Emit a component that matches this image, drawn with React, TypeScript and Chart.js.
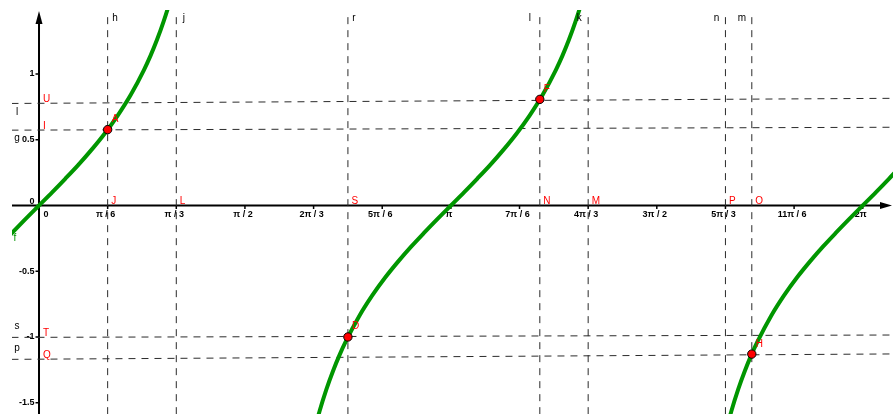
import React, { useEffect, useRef } from "react";
import { Chart, registerables } from "chart.js";

Chart.register(...registerables);

// f(x) = tan x, three visible branches (x, y)
const branch1X = [-0.25, -0.2, -0.1, 0, 0.1, 0.2, 0.3, 0.4, 0.5, 0.6, 0.7, 0.8, 0.85, 0.9, 0.95, 1.0, 1.05];
const branch1Y = [-0.255, -0.203, -0.1, 0, 0.1, 0.203, 0.309, 0.423, 0.546, 0.684, 0.842, 1.03, 1.138, 1.26, 1.398, 1.557, 1.743];
const branch2X = [2.092, 2.142, 2.192, 2.242, 2.292, 2.342, 2.442, 2.542, 2.642, 2.742, 2.842, 2.942, 3.042, 3.142, 3.242, 3.342, 3.442, 3.542, 3.642, 3.742, 3.842, 3.942, 3.992, 4.042, 4.092, 4.142, 4.192];
const branch2Y = [-1.743, -1.557, -1.398, -1.26, -1.138, -1.03, -0.842, -0.684, -0.546, -0.423, -0.309, -0.203, -0.1, 0, 0.1, 0.203, 0.309, 0.423, 0.546, 0.684, 0.842, 1.03, 1.138, 1.26, 1.398, 1.557, 1.743];
const branch3X = [5.233, 5.283, 5.333, 5.383, 5.433, 5.483, 5.583, 5.683, 5.783, 5.883, 5.983, 6.083, 6.183, 6.283, 6.383, 6.483, 6.583];
const branch3Y = [-1.743, -1.557, -1.398, -1.26, -1.138, -1.03, -0.842, -0.684, -0.546, -0.423, -0.309, -0.203, -0.1, 0, 0.1, 0.203, 0.309];

// Points on the graph
const pointNames = ["A", "D", "F", "H"];
const pointX = [0.5236, 2.3562, 3.82, 5.437];
const pointY = [0.577, -1.0, 0.807, -1.13];

// Vertical lines and their feet on the x-axis
const vLineNames = ["h", "j", "r", "l", "k", "n", "m"];
const vLineX = [0.5236, 1.0472, 2.3562, 3.82, 4.1888, 5.236, 5.437];
const vFootNames = ["J", "L", "S", "N", "M", "P", "O"];

// Horizontal lines (left end / right end heights) and their feet on the y-axis
const hLineNames = ["l", "g", "s", "p"];
const hLineLeftY = [0.776, 0.573, -1.003, -1.17];
const hLineRightY = [0.815, 0.595, -0.985, -1.129];
const hFootNames = ["U", "I", "T", "Q"];
const hLineFromX = -0.21;
const hLineToX = 6.49;

// Axis ticks
const xTickValues = [0, 0.5236, 1.0472, 1.5708, 2.0944, 2.618, 3.1416, 3.6652, 4.1888, 4.7124, 5.236, 5.7596, 6.2832];
const xTickLabels = ["0", "π / 6", "π / 3", "π / 2", "2π / 3", "5π / 6", "π", "7π / 6", "4π / 3", "3π / 2", "5π / 3", "11π / 6", "2π"];
const yTickValues = [1, 0.5, 0, -0.5, -1, -1.5];
const yTickLabels = ["1", "0.5", "0", "-0.5", "-1", "-1.5"];

// Visible window
const xMin = -0.206;
const xMax = 6.514;
const yMin = -1.5856;
const yMax = 1.4867;

const GREEN = "rgb(0,150,0)";
const RED = "#ff0000";
const DASH_COLOR = "#2a2a2a";
const FONT = '"Liberation Sans", Arial, sans-serif';

const zip = (xs: number[], ys: number[]) => xs.map((x, i) => ({ x, y: ys[i] }));

const vNameOffset = [7.5, 7.5, 6, -10, -9, -9, -10];
const hNameDy = [9, 8.5, -11, -11];

const geoPlugin = {
  id: "geoAxes",
  beforeDatasetsDraw(chart: any) {
    const { ctx } = chart;
    const xs = chart.scales.x;
    const ys = chart.scales.y;
    const ox = xs.getPixelForValue(0);
    const oy = ys.getPixelForValue(0);
    const W = chart.width;
    const H = chart.height;
    ctx.save();
    ctx.strokeStyle = "#000";
    ctx.fillStyle = "#000";
    ctx.lineWidth = 2;
    // x-axis
    ctx.beginPath();
    ctx.moveTo(chart.chartArea.left, oy);
    ctx.lineTo(W - 12, oy);
    ctx.stroke();
    ctx.beginPath();
    ctx.moveTo(W - 1, oy);
    ctx.lineTo(W - 13, oy - 3.5);
    ctx.lineTo(W - 13, oy + 3.5);
    ctx.closePath();
    ctx.fill();
    // y-axis
    ctx.beginPath();
    ctx.moveTo(ox, H);
    ctx.lineTo(ox, 22);
    ctx.stroke();
    ctx.beginPath();
    ctx.moveTo(ox, 11);
    ctx.lineTo(ox - 3.5, 24);
    ctx.lineTo(ox + 3.5, 24);
    ctx.closePath();
    ctx.fill();

    // ticks
    ctx.lineWidth = 1.5;
    xTickValues.forEach((v, i) => {
      if (i === 0) return;
      const px = xs.getPixelForValue(v);
      ctx.beginPath();
      ctx.moveTo(px, oy);
      ctx.lineTo(px, oy + 3.5);
      ctx.stroke();
    });
    yTickValues.forEach((v) => {
      if (v === 0) return;
      const py = ys.getPixelForValue(v);
      ctx.beginPath();
      ctx.moveTo(ox - 3.5, py);
      ctx.lineTo(ox, py);
      ctx.stroke();
    });

    // tick labels
    ctx.font = `bold 9px ${FONT}`;
    ctx.textBaseline = "middle";
    ctx.textAlign = "center";
    xTickValues.forEach((v, i) => {
      const px = i === 0 ? ox + 7 : xs.getPixelForValue(v) - 2;
      ctx.fillText(xTickLabels[i], px, oy + 9);
    });
    ctx.textAlign = "right";
    yTickValues.forEach((v, i) => {
      const py = v === 0 ? oy - 4 : ys.getPixelForValue(v);
      ctx.fillText(yTickLabels[i], ox - 4.5, py);
    });
    ctx.restore();
  },
  afterDatasetsDraw(chart: any) {
    const { ctx } = chart;
    const xs = chart.scales.x;
    const ys = chart.scales.y;
    const ox = xs.getPixelForValue(0);
    const oy = ys.getPixelForValue(0);
    const left = chart.chartArea.left;
    ctx.save();
    ctx.font = `10px ${FONT}`;

    // names of the vertical lines and their feet
    vLineX.forEach((v, i) => {
      const px = xs.getPixelForValue(v);
      ctx.fillStyle = "#000";
      ctx.textAlign = "center";
      ctx.textBaseline = "middle";
      ctx.fillText(vLineNames[i], px + vNameOffset[i], 18);
      ctx.fillStyle = RED;
      ctx.textAlign = "left";
      ctx.textBaseline = "alphabetic";
      ctx.fillText(vFootNames[i], px + 3.5, oy - 1);
    });

    // names of the horizontal lines and their feet
    hLineNames.forEach((name, i) => {
      const slope = (hLineRightY[i] - hLineLeftY[i]) / (hLineToX - hLineFromX);
      const yAt = (x: number) => hLineLeftY[i] + slope * (x - hLineFromX);
      const nameX = xs.getValueForPixel(left + 5);
      ctx.fillStyle = "#000";
      ctx.textAlign = "center";
      ctx.textBaseline = "middle";
      ctx.fillText(name, left + 5, ys.getPixelForValue(yAt(nameX)) + hNameDy[i]);
      ctx.fillStyle = RED;
      ctx.textAlign = "left";
      ctx.textBaseline = "alphabetic";
      ctx.fillText(hFootNames[i], ox + 4, ys.getPixelForValue(yAt(0)) - 1.5);
    });

    // names of the points
    ctx.fillStyle = RED;
    ctx.textAlign = "left";
    ctx.textBaseline = "alphabetic";
    pointNames.forEach((name, i) => {
      const px = xs.getPixelForValue(pointX[i]);
      const py = ys.getPixelForValue(pointY[i]);
      ctx.fillText(name, px + 4, py - 7.5);
    });

    // function name
    ctx.fillStyle = GREEN;
    ctx.textAlign = "center";
    ctx.textBaseline = "middle";
    ctx.fillText("f", left + 3, ys.getPixelForValue(branch1Y[1]) + 6);
    ctx.restore();
  },
};

export default function App() {
  const canvasRef = useRef<HTMLCanvasElement | null>(null);

  useEffect(() => {
    if (!canvasRef.current) return;

    const dashed = (points: { x: number; y: number }[]) => ({
      data: points,
      showLine: true,
      borderColor: DASH_COLOR,
      borderWidth: 1,
      borderDash: [7, 6],
      pointRadius: 0,
      fill: false,
      order: 2,
    });

    const curve = (points: { x: number; y: number }[]) => ({
      data: points,
      showLine: true,
      borderColor: GREEN,
      borderWidth: 4,
      pointRadius: 0,
      fill: false,
      cubicInterpolationMode: "monotone" as const,
      order: 1,
    });

    const datasets: any[] = [
      ...vLineX.map((x) => dashed([{ x, y: yMin - 0.1 }, { x, y: yMax - 0.03 }])),
      ...hLineLeftY.map((y, i) =>
        dashed([
          { x: hLineFromX, y },
          { x: hLineToX, y: hLineRightY[i] },
        ])
      ),
      curve(zip(branch1X, branch1Y)),
      curve(zip(branch2X, branch2Y)),
      curve(zip(branch3X, branch3Y)),
      {
        data: zip(pointX, pointY),
        showLine: false,
        pointRadius: 4.2,
        pointBackgroundColor: RED,
        pointBorderColor: "#000",
        pointBorderWidth: 1,
        order: 0,
      },
    ];

    const chart = new Chart(canvasRef.current, {
      type: "scatter",
      data: { datasets },
      options: {
        animation: false,
        responsive: false,
        events: [],
        layout: { autoPadding: false, padding: { left: 12, top: 10, right: 0, bottom: 0 } },
        plugins: {
          legend: { display: false },
          tooltip: { enabled: false },
        },
        scales: {
          x: { type: "linear", min: xMin, max: xMax, display: false },
          y: { type: "linear", min: yMin, max: yMax, display: false },
        },
      },
      plugins: [geoPlugin],
    });

    return () => chart.destroy();
  }, []);

  return (
    <div style={{ position: "fixed", left: 0, top: 0, width: 893, height: 414, background: "#fff" }}>
      <canvas ref={canvasRef} width={893} height={414} style={{ display: "block" }} />
    </div>
  );
}
